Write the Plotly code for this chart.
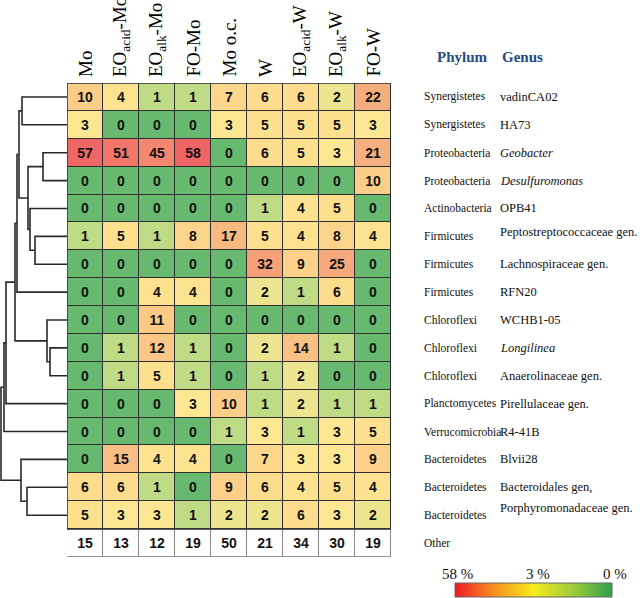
import plotly.graph_objects as go

# ---------------- data ----------------
columns = ["Mo", "EO<sub>acid</sub>-Mo", "EO<sub>alk</sub>-Mo", "FO-Mo", "Mo o.c.",
           "W", "EO<sub>acid</sub>-W", "EO<sub>alk</sub>-W", "FO-W"]

phylum = ["Synergistetes", "Synergistetes", "Proteobacteria", "Proteobacteria",
          "Actinobacteria", "Firmicutes", "Firmicutes", "Firmicutes",
          "Chloroflexi", "Chloroflexi", "Chloroflexi", "Planctomycetes",
          "Verrucomicrobia", "Bacteroidetes", "Bacteroidetes", "Bacteroidetes"]

genus = ["vadinCA02", "HA73", "<i>Geobacter</i>", "<i>Desulfuromonas</i>", "OPB41",
         "Peptostreptococcaceae gen.", "Lachnospiraceae gen.", "RFN20", "WCHB1-05",
         "<i>Longilinea</i>", "Anaerolinaceae gen.", "Pirellulaceae gen.", "R4-41B",
         "Blvii28", "Bacteroidales gen,", "Porphyromonadaceae gen."]

abundance = [
    [10, 4, 1, 1, 7, 6, 6, 2, 22],
    [3, 0, 0, 0, 3, 5, 5, 5, 3],
    [57, 51, 45, 58, 0, 6, 5, 3, 21],
    [0, 0, 0, 0, 0, 0, 0, 0, 10],
    [0, 0, 0, 0, 0, 1, 4, 5, 0],
    [1, 5, 1, 8, 17, 5, 4, 8, 4],
    [0, 0, 0, 0, 0, 32, 9, 25, 0],
    [0, 0, 4, 4, 0, 2, 1, 6, 0],
    [0, 0, 11, 0, 0, 0, 0, 0, 0],
    [0, 1, 12, 1, 0, 2, 14, 1, 0],
    [0, 1, 5, 1, 0, 1, 2, 0, 0],
    [0, 0, 0, 3, 10, 1, 2, 1, 1],
    [0, 0, 0, 0, 1, 3, 1, 3, 5],
    [0, 15, 4, 4, 0, 7, 3, 3, 9],
    [6, 6, 1, 0, 9, 6, 4, 5, 4],
    [5, 3, 3, 1, 2, 2, 6, 3, 2],
]
other = [15, 13, 12, 19, 50, 21, 34, 30, 19]
other_label = "Other"

# dendrogram merges: (left, right, merge distance, new node)
merges = [
    ("r0", "r1", 45, "A"),
    ("r2", "r3", 24, "B"),
    ("r5", "r6", 32, "C"),
    ("r4", "C", 37, "D"),
    ("B", "D", 39, "E"),
    ("A", "E", 48, "F"),
    ("F", "r7", 50, "G"),
    ("r9", "r10", 17, "H"),
    ("r8", "H", 20, "I"),
    ("G", "I", 52, "J"),
    ("J", "r11", 61, "K"),
    ("K", "r12", 63, "L"),
    ("r14", "r15", 40, "M"),
    ("r13", "M", 46, "N"),
    ("L", "N", 66, "root"),
]

colorbar_labels = ["58 %", "3 %", "0 %"]

# ---------------- styling helpers ----------------
W, H = 640, 598


def px(x):
    return x / W


def py(y):
    return 1 - y / H


ZMAX = 58
cell_stops = [(0, "#68b970"), (0.5, "#8fc877"), (1, "#bfdb86"), (2, "#ece48f"),
              (3, "#fde692"), (5, "#fde08e"), (8, "#fcd38a"), (12, "#fac786"),
              (20, "#f6b07e"), (32, "#f5a078"), (45, "#f58670"), (58, "#ef6464")]
cell_scale = [[v / ZMAX, c] for v, c in cell_stops]

serif = "Liberation Serif, Times New Roman, serif"
sans = "Liberation Sans, Arial, sans-serif"

fig = go.Figure()

n_rows = len(abundance)
n_cols = len(columns)

# main heatmap
fig.add_trace(go.Heatmap(
    z=abundance, x=list(range(n_cols)), y=list(range(n_rows)),
    text=[[str(v) for v in row] for row in abundance],
    texttemplate="<b>%{text}</b>",
    textfont=dict(family=sans, size=14, color="#111111"),
    colorscale=cell_scale, zmin=0, zmax=ZMAX, showscale=False,
    xgap=1, ygap=1, hoverinfo="skip", xaxis="x", yaxis="y"))

# "Other" row
fig.add_trace(go.Heatmap(
    z=[other], x=list(range(n_cols)), y=[n_rows],
    text=[[str(v) for v in other]],
    texttemplate="<b>%{text}</b>",
    textfont=dict(family=sans, size=14, color="#111111"),
    colorscale=[[0, "white"], [1, "white"]], showscale=False,
    xgap=1, ygap=1, hoverinfo="skip", xaxis="x", yaxis="y"))

# dendrogram
pos = {f"r{i}": (0.0, float(i)) for i in range(n_rows)}
dx, dy = [], []
for a, b, h, name in merges:
    da, ya = pos[a]
    db, yb = pos[b]
    dx += [da, h, h, db, None]
    dy += [ya, ya, yb, yb, None]
    pos[name] = (h, (ya + yb) / 2)
fig.add_trace(go.Scatter(x=dx, y=dy, mode="lines",
                         line=dict(color="#2a2a2a", width=1.6),
                         hoverinfo="skip", cliponaxis=False,
                         xaxis="x2", yaxis="y"))

# colour legend gradient
fig.add_trace(go.Heatmap(
    z=[[1, 0], [1, 0]], x=[0, 1], y=[0, 1], zsmooth="best",
    colorscale=[[0, "#2ca24a"], [0.25, "#9ccc3a"], [0.5, "#f6ec1c"],
                [0.75, "#f7931e"], [1, "#ee1c24"]],
    showscale=False, hoverinfo="skip", xaxis="x3", yaxis="y3"))

# grid background (lines) shapes
fig.add_shape(type="rect", xref="x", yref="y", x0=-0.5, x1=n_cols - 0.5,
              y0=-0.5, y1=n_rows - 0.5, fillcolor="#2e2e2e",
              line=dict(color="#2e2e2e", width=1.5), layer="below")
fig.add_shape(type="rect", xref="x", yref="y", x0=-0.5, x1=n_cols - 0.5,
              y0=n_rows - 0.5, y1=n_rows + 0.5, fillcolor="#8a8a8a",
              line=dict(color="#8a8a8a", width=1), layer="below")
fig.add_shape(type="rect", xref="x", yref="y", x0=-0.5, x1=n_cols - 0.5,
              y0=-0.5, y1=n_rows - 0.5, fillcolor="rgba(0,0,0,0)",
              line=dict(color="#2e2e2e", width=1.5), layer="above")
fig.add_shape(type="rect", xref="x3 domain", yref="y3 domain", x0=0, x1=1,
              y0=0, y1=1, line=dict(color="#666666", width=1), layer="above")

ann = []
# column headers
for j, c in enumerate(columns):
    ann.append(dict(x=j, xref="x", y=py(79), yref="paper", text=c,
                    textangle=-90, showarrow=False, xanchor="center",
                    yanchor="bottom", font=dict(family=serif, size=19, color="#000")))

# row labels
for i in range(n_rows):
    ann.append(dict(x=px(422), xref="paper", y=i, yref="y", text=phylum[i],
                    showarrow=False, xanchor="left", yanchor="middle",
                    font=dict(family=serif, size=11.5, color="#111")))
    shift = 0
    if genus[i].startswith("Peptostrepto"):
        shift = 4
    if genus[i].startswith("Porphyro"):
        shift = 7
    ann.append(dict(x=px(498), xref="paper", y=i, yref="y", text=genus[i],
                    showarrow=False, xanchor="left", yanchor="middle", yshift=shift,
                    font=dict(family=serif, size=12.5, color="#111")))
ann.append(dict(x=px(422), xref="paper", y=n_rows, yref="y", text=other_label,
                showarrow=False, xanchor="left", yanchor="middle",
                font=dict(family=serif, size=11.5, color="#111")))

# headers Phylum / Genus
ann.append(dict(x=px(462), xref="paper", y=py(57), yref="paper", text="<b>Phylum</b>",
                showarrow=False, xanchor="center", yanchor="middle",
                font=dict(family=serif, size=15, color="#1f4a86")))
ann.append(dict(x=px(522), xref="paper", y=py(57), yref="paper", text="<b>Genus</b>",
                showarrow=False, xanchor="center", yanchor="middle",
                font=dict(family=serif, size=15, color="#1f4a86")))

# colour legend labels
for lab, xp in zip(colorbar_labels, [457, 538, 615]):
    ann.append(dict(x=px(xp), xref="paper", y=py(574), yref="paper", text=lab,
                    showarrow=False, xanchor="center", yanchor="middle",
                    font=dict(family=serif, size=15, color="#111")))

fig.update_layout(
    width=W, height=H, margin=dict(l=0, r=0, t=0, b=0),
    paper_bgcolor="white", plot_bgcolor="white", showlegend=False,
    xaxis=dict(domain=[px(67), px(391)], range=[-0.5, n_cols - 0.5], visible=False,
               fixedrange=True, anchor="y"),
    yaxis=dict(domain=[py(557), py(83)], range=[n_rows + 0.5, -0.5], visible=False,
               fixedrange=True, anchor="x"),
    xaxis2=dict(domain=[0, px(67)], range=[67, 0], visible=False, fixedrange=True,
                anchor="y"),
    xaxis3=dict(domain=[px(455), px(612)], range=[0, 1], visible=False,
                fixedrange=True, anchor="y3"),
    yaxis3=dict(domain=[py(597), py(583)], range=[0, 1], visible=False,
                fixedrange=True, anchor="x3"),
    annotations=ann,
)

fig.write_html(
    "out.html",
    config={"displayModeBar": False},
    post_script="document.body.style.margin='0';document.body.style.overflow='hidden';",
)
